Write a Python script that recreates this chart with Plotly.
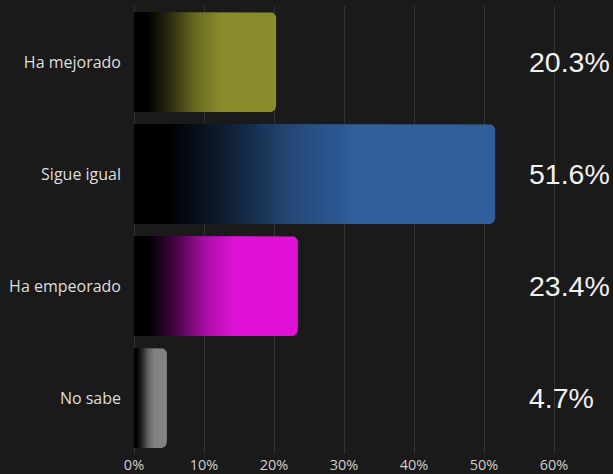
import plotly.graph_objects as go
import numpy as np

categories = ["Ha mejorado", "Sigue igual", "Ha empeorado", "No sabe"]
values = [20.3, 51.6, 23.4, 4.7]
colors = ["#8a8c2b", "#2f5f9d", "#e012d8", "#828282"]
tick_vals = [0, 10, 20, 30, 40, 50, 60]
tick_text = ["0%", "10%", "20%", "30%", "40%", "50%", "60%"]

W, H = 613, 474
ML, MR, MT, MB = 134, 17, 6, 20
XMAX = 66
px_per_x = (W - ML - MR) / XMAX
px_per_y = (H - MT - MB) / len(categories)
half = 0.447
r_px = 6
rx = r_px / px_per_x
ry = r_px / px_per_y


def mix(c, f):
    h = c.lstrip('#')
    r, g, b = int(h[0:2], 16), int(h[2:4], 16), int(h[4:6], 16)
    return f"rgb({int(r*f)},{int(g*f)},{int(b*f)})"


fig = go.Figure()
for i, (cat, v, c) in enumerate(zip(categories, values, colors)):
    y0, y1 = i - half, i + half
    rxx = min(rx, v / 2)
    t = np.linspace(0, np.pi / 2, 12)
    xs = [0, v - rxx]
    ys = [y0, y0]
    xs += list(v - rxx + rxx * np.sin(t))
    ys += list(y0 + ry - ry * np.cos(t))
    xs += list(v - rxx + rxx * np.cos(t))
    ys += list(y1 - ry + ry * np.sin(t))
    xs += [v - rxx, 0, 0]
    ys += [y1, y1, y0]
    fig.add_trace(go.Scatter(
        x=xs, y=ys, mode="lines", fill="toself",
        line=dict(width=0),
        fillgradient=dict(type="horizontal",
                          colorscale=[[0, "#000000"], [0.09, "#000000"], [0.26, mix(c, 0.33)],
                                      [0.43, mix(c, 0.75)], [0.62, c], [1, c]]),
        hoverinfo="skip", showlegend=False,
    ))

for i, v in enumerate(values):
    fig.add_annotation(x=56.1, y=i, xref="x", yref="y", text=f"{v}%",
                       showarrow=False, xanchor="left", yanchor="middle",
                       font=dict(family="Liberation Sans, Arial", size=28.5, color="#f2f2f2"))

fig.update_layout(
    width=W, height=H,
    margin=dict(l=ML, r=MR, t=MT, b=MB),
    paper_bgcolor="#1a1a1a", plot_bgcolor="#1a1a1a",
    xaxis=dict(range=[0, XMAX], tickvals=tick_vals, ticktext=tick_text,
               showgrid=True, gridcolor="#333333", gridwidth=1,
               zeroline=True, zerolinecolor="#333333", zerolinewidth=1,
               showline=False, ticks="", ticklabelstandoff=0, automargin=False,
               tickfont=dict(family="Open Sans", size=14.5, color="#cfcfcf"),
               fixedrange=True),
    yaxis=dict(range=[len(categories) - 0.5, -0.5], tickvals=list(range(len(categories))),
               ticktext=categories, showgrid=False, zeroline=False, showline=False,
               ticks="", ticklabelstandoff=12, automargin=False,
               tickfont=dict(family="Open Sans", size=16, color="#dedede"),
               fixedrange=True),
    showlegend=False,
)

fig.write_html("out.html",
               post_script="document.body.style.margin='0';document.body.style.background='#1a1a1a';",
               config={"displayModeBar": False})
